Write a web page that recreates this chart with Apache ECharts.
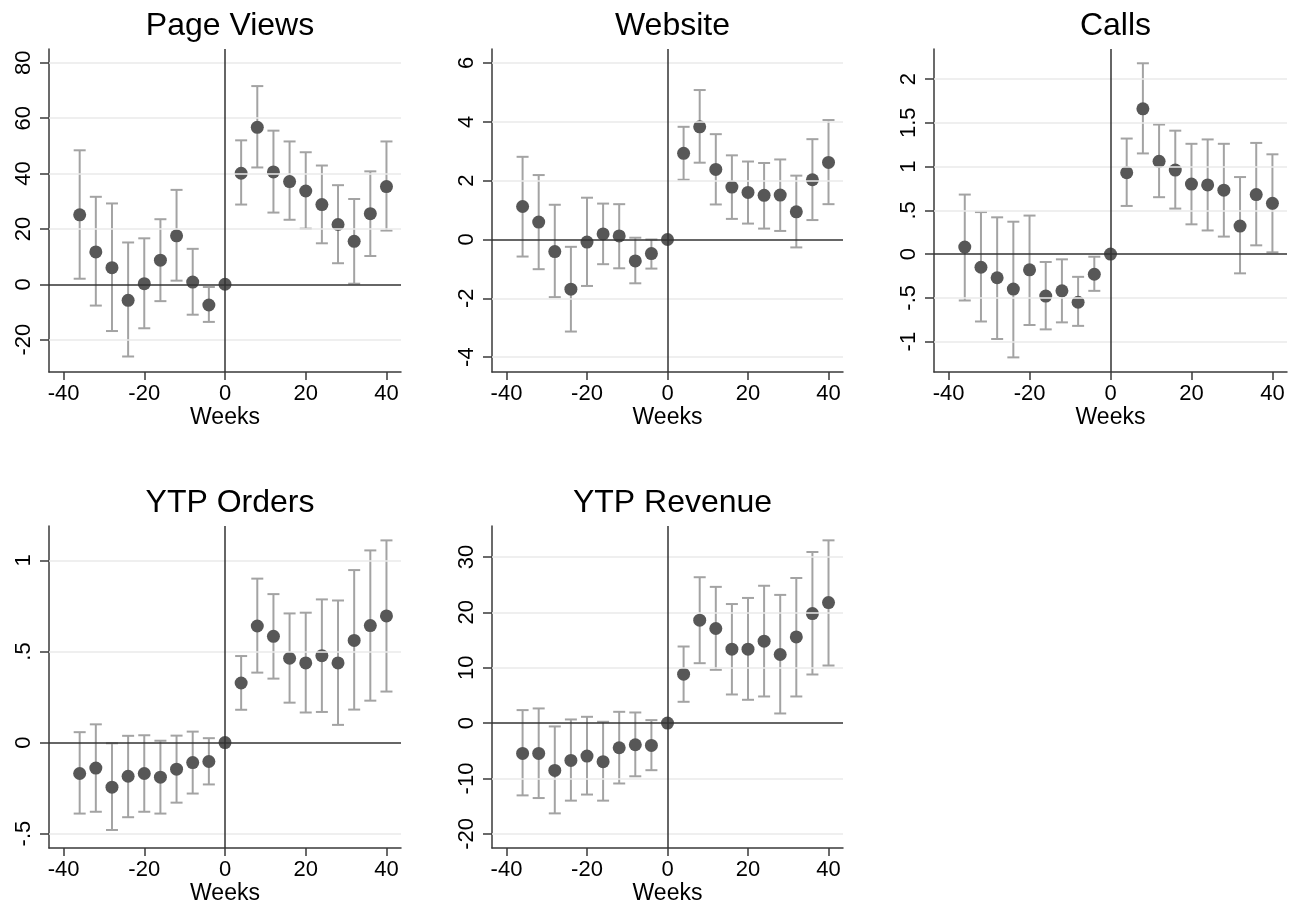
<!DOCTYPE html>
<html>
<head>
<meta charset="utf-8">
<script src="https://cdn.jsdelivr.net/npm/echarts@6/dist/echarts.min.js"></script>
<style>
  html, body { margin: 0; padding: 0; background: #fff; }
  #chart { width: 1303px; height: 909px; }
</style>
</head>
<body>
<div id="chart"></div>
<script>
// Event-study estimates by week relative to the event (week 0 is the omitted base period)
const weeks = [-36, -32, -28, -24, -20, -16, -12, -8, -4, 0, 4, 8, 12, 16, 20, 24, 28, 32, 36, 40];
const xTicks = [-40, -20, 0, 20, 40];

const pageViewsEst = [25.1, 11.7, 6.0, -5.8, 0.2, 8.7, 17.5, 0.8, -7.5, 0, 40.1, 56.7, 40.6, 37.1, 33.7, 28.8, 21.6, 15.5, 25.5, 35.3];
const pageViewsLo  = [2.0, -7.7, -16.9, -26.1, -15.9, -6.1, 1.3, -11.0, -13.6, null, 28.8, 42.2, 25.9, 23.3, 20.1, 14.8, 7.6, 0.2, 10.2, 19.4];
const pageViewsHi  = [48.4, 31.6, 29.2, 15.1, 16.6, 23.5, 34.1, 12.8, -1.0, null, 52.0, 71.6, 55.5, 51.6, 47.7, 42.9, 35.8, 30.8, 40.8, 51.6];
const pageViewsTicks = [-20, 0, 20, 40, 60, 80];

const websiteEst = [1.12, 0.59, -0.41, -1.69, -0.09, 0.19, 0.12, -0.73, -0.48, 0, 2.93, 3.83, 2.38, 1.78, 1.60, 1.50, 1.51, 0.94, 2.03, 2.62];
const websiteLo  = [-0.58, -1.01, -1.96, -3.13, -1.58, -0.84, -0.98, -1.49, -0.99, null, 2.03, 2.61, 1.19, 0.70, 0.54, 0.37, 0.29, -0.27, 0.66, 1.20];
const websiteHi  = [2.81, 2.19, 1.18, -0.25, 1.42, 1.22, 1.20, 0.06, 0.0, null, 3.83, 5.08, 3.58, 2.86, 2.65, 2.60, 2.72, 2.17, 3.41, 4.06];
const websiteTicks = [-4, -2, 0, 2, 4, 6];

const callsEst = [0.08, -0.15, -0.27, -0.40, -0.18, -0.48, -0.42, -0.55, -0.23, 0, 0.93, 1.66, 1.06, 0.96, 0.80, 0.79, 0.73, 0.32, 0.68, 0.58];
const callsLo  = [-0.53, -0.77, -0.97, -1.18, -0.81, -0.86, -0.78, -0.82, -0.42, null, 0.55, 1.15, 0.65, 0.52, 0.34, 0.27, 0.20, -0.22, 0.10, 0.02];
const callsHi  = [0.68, 0.48, 0.42, 0.37, 0.44, -0.09, -0.06, -0.26, -0.03, null, 1.32, 2.18, 1.48, 1.41, 1.26, 1.31, 1.26, 0.88, 1.27, 1.14];
const callsTicks = [-1, -0.5, 0, 0.5, 1, 1.5, 2];

const ordersEst = [-0.17, -0.14, -0.245, -0.185, -0.17, -0.19, -0.146, -0.11, -0.104, 0, 0.327, 0.64, 0.583, 0.463, 0.437, 0.477, 0.437, 0.561, 0.642, 0.695];
const ordersLo  = [-0.39, -0.38, -0.48, -0.41, -0.38, -0.39, -0.33, -0.28, -0.23, null, 0.18, 0.384, 0.351, 0.219, 0.165, 0.168, 0.097, 0.181, 0.23, 0.28];
const ordersHi  = [0.057, 0.10, -0.004, 0.037, 0.04, 0.01, 0.038, 0.06, 0.024, null, 0.475, 0.90, 0.815, 0.709, 0.713, 0.786, 0.78, 0.947, 1.055, 1.11];
const ordersTicks = [-0.5, 0, 0.5, 1];

const revenueEst = [-5.47, -5.47, -8.54, -6.73, -5.95, -6.97, -4.45, -3.91, -4.03, 0, 8.84, 18.58, 17.08, 13.35, 13.35, 14.79, 12.39, 15.57, 19.78, 21.77];
const revenueLo  = [-13.05, -13.53, -16.3, -14.0, -12.9, -14.0, -10.9, -9.6, -8.5, null, 3.85, 10.82, 9.62, 5.17, 4.21, 4.81, 1.74, 4.81, 8.78, 10.4];
const revenueHi  = [2.35, 2.65, -0.60, 0.66, 1.14, 0.24, 2.04, 1.92, 0.54, null, 13.83, 26.34, 24.6, 21.5, 22.6, 24.8, 23.15, 26.2, 30.9, 33.0];
const revenueTicks = [-20, -10, 0, 10, 20, 30];

const FONT = 'Liberation Sans, Arial, Helvetica, sans-serif';
const AXIS_COLOR = '#3a3a3a';
const REF_COLOR = '#333333';
const GRID_COLOR = '#eaeaea';
const BAR_COLOR = '#a3a3a3';
const DOT_COLOR = '#575757';

// Panel layout: plot rectangle and value ranges
const panels = [
  { title: 'Page Views',  est: pageViewsEst, lo: pageViewsLo, hi: pageViewsHi, ticks: pageViewsTicks,
    left: 49,  top: 49,  width: 352, height: 323, ymin: -31.7, ymax: 85.0 },
  { title: 'Website',     est: websiteEst,   lo: websiteLo,   hi: websiteHi,   ticks: websiteTicks,
    left: 492, top: 49,  width: 351, height: 323, ymin: -4.505, ymax: 6.475 },
  { title: 'Calls',       est: callsEst,     lo: callsLo,     hi: callsHi,     ticks: callsTicks,
    left: 934, top: 49,  width: 353, height: 323, ymin: -1.347, ymax: 2.343 },
  { title: 'YTP Orders',  est: ordersEst,    lo: ordersLo,    hi: ordersHi,    ticks: ordersTicks,
    left: 49,  top: 526, width: 352, height: 322, ymin: -0.579, ymax: 1.189 },
  { title: 'YTP Revenue', est: revenueEst,   lo: revenueLo,   hi: revenueHi,   ticks: revenueTicks,
    left: 492, top: 526, width: 351, height: 322, ymin: -22.55, ymax: 35.59 }
];

// Stata-style numeric labels: ".5", "-.5"
function fmt(v) {
  return String(v).replace(/^(-?)0\./, '$1.');
}

function renderErrorBar(params, api) {
  const x = api.value(0);
  const top = api.coord([x, api.value(2)]);
  const bot = api.coord([x, api.value(1)]);
  const hw = 6;
  const style = { stroke: BAR_COLOR, lineWidth: 2, fill: null };
  return {
    type: 'group',
    children: [
      { type: 'line', shape: { x1: top[0], y1: top[1], x2: bot[0], y2: bot[1] }, style: style },
      { type: 'line', shape: { x1: top[0] - hw, y1: top[1], x2: top[0] + hw, y2: top[1] }, style: style },
      { type: 'line', shape: { x1: bot[0] - hw, y1: bot[1], x2: bot[0] + hw, y2: bot[1] }, style: style }
    ]
  };
}

const option = {
  animation: false,
  backgroundColor: '#ffffff',
  textStyle: { fontFamily: FONT },
  title: [], grid: [], xAxis: [], yAxis: [], series: []
};

panels.forEach(function (p, i) {
  option.title.push({
    text: p.title,
    left: p.left + p.width / 2,
    top: p.top - 44,
    textAlign: 'center',
    textStyle: { fontFamily: FONT, fontSize: 32, fontWeight: 'normal', color: '#000' }
  });
  option.grid.push({ left: p.left, top: p.top, width: p.width, height: p.height, containLabel: false });
  option.xAxis.push({
    type: 'value', gridIndex: i, min: -43.6, max: 43.6,
    name: 'Weeks', nameLocation: 'middle', nameGap: 33,
    nameTextStyle: { fontFamily: FONT, fontSize: 23, color: '#000' },
    axisLine: { show: true, onZero: false, lineStyle: { color: AXIS_COLOR, width: 1.5 } },
    axisTick: { show: true, length: 8, customValues: xTicks, lineStyle: { color: AXIS_COLOR, width: 1.5 } },
    axisLabel: { customValues: xTicks, fontFamily: FONT, fontSize: 22, color: '#000', margin: 11, formatter: fmt },
    splitLine: { show: false }
  });
  option.yAxis.push({
    type: 'value', gridIndex: i, min: p.ymin, max: p.ymax,
    axisLine: { show: true, onZero: false, lineStyle: { color: AXIS_COLOR, width: 1.5 } },
    axisTick: { show: true, length: 9, customValues: p.ticks, lineStyle: { color: AXIS_COLOR, width: 1.5 } },
    axisLabel: { customValues: p.ticks, rotate: 90, fontFamily: FONT, fontSize: 22, color: '#000', margin: 14, formatter: fmt },
    splitLine: { show: false }
  });

  // light horizontal gridlines at the labelled ticks
  option.series.push({
    type: 'line', xAxisIndex: i, yAxisIndex: i, data: [], z: 1, silent: true,
    markLine: {
      silent: true, symbol: ['none', 'none'], label: { show: false }, animation: false,
      lineStyle: { color: GRID_COLOR, width: 1.5, type: 'solid' },
      data: p.ticks.filter(function (t) { return t !== 0; }).map(function (t) { return { yAxis: t }; })
    }
  });

  // confidence intervals with caps
  const bars = [];
  weeks.forEach(function (w, k) {
    if (p.lo[k] !== null && p.hi[k] !== null) bars.push([w, p.lo[k], p.hi[k]]);
  });
  option.series.push({
    type: 'custom', xAxisIndex: i, yAxisIndex: i, z: 2, silent: true,
    renderItem: renderErrorBar,
    encode: { x: 0, y: [1, 2] },
    data: bars
  });

  // point estimates
  option.series.push({
    type: 'scatter', xAxisIndex: i, yAxisIndex: i, z: 3, silent: true,
    symbol: 'circle', symbolSize: 13,
    itemStyle: { color: DOT_COLOR, opacity: 1 },
    data: weeks.map(function (w, k) { return [w, p.est[k]]; })
  });

  // reference lines at zero on both axes
  option.series.push({
    type: 'line', xAxisIndex: i, yAxisIndex: i, data: [], z: 4, silent: true,
    markLine: {
      silent: true, symbol: ['none', 'none'], label: { show: false }, animation: false,
      lineStyle: { color: REF_COLOR, width: 1.5, type: 'solid' },
      data: [{ yAxis: 0 }, { xAxis: 0 }]
    }
  });
});

const chart = echarts.init(document.getElementById('chart'), null, { renderer: 'canvas' });
chart.setOption(option);
</script>
</body>
</html>
